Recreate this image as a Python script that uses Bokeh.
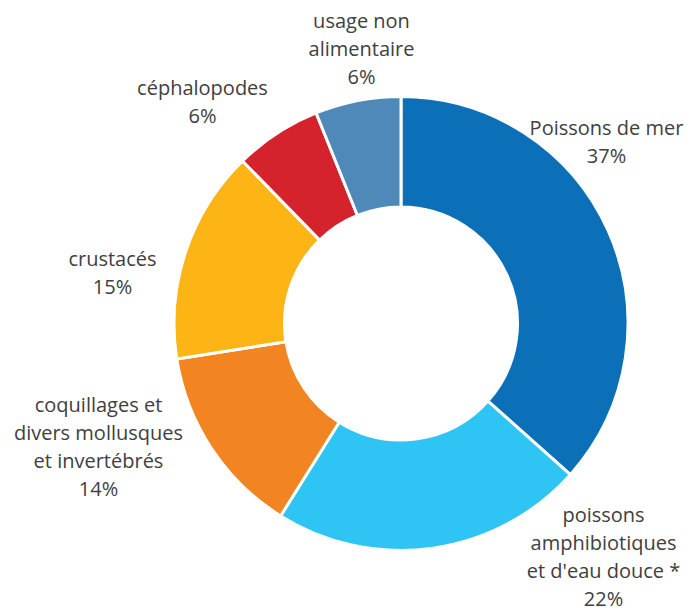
import math
from bokeh.plotting import figure
from bokeh.models import Range1d, ColumnDataSource
from bokeh.core.properties import value
from bokeh.embed import file_html
from bokeh.resources import INLINE

# data
categories = ["Poissons de mer", "poissons\namphibiotiques\net d'eau douce *",
              "coquillages et\ndivers mollusques\net invertébrés", "crustacés",
              "céphalopodes", "usage non\nalimentaire"]
shares = [36.6, 22.3, 13.6, 15.2, 6.2, 6.1]
pct_labels = ["37%", "22%", "14%", "15%", "6%", "6%"]
colors = ["#0B70B8", "#2EC4F3", "#F28422", "#FDB515", "#D4232C", "#4F89BA"]

# layout (screen pixels in the page)
CX, CY = 400.5, 323.0
R_OUT, R_IN = 227.0, 116.5
label_pos = [(606, 141), (603, 556), (98, 446), (112, 272), (202, 101), (361, 48)]
LINE_H = 28.2

W, H = 690, 612
p = figure(width=W, height=H, output_backend="svg", toolbar_location=None,
           x_range=Range1d(0, W), y_range=Range1d(0, H), min_border=0)
p.axis.visible = False
p.grid.visible = False
p.outline_line_color = None
p.background_fill_color = "white"
p.border_fill_color = "white"

def sy(y):
    return H - y

total = sum(shares)
starts, ends = [], []
cum = 0.0
for s in shares:
    starts.append(math.pi / 2 - 2 * math.pi * cum / total)
    cum += s
    ends.append(math.pi / 2 - 2 * math.pi * cum / total)

src = ColumnDataSource(dict(x=[CX] * len(shares), y=[sy(CY)] * len(shares),
                            start=starts, end=ends, color=colors))
p.annular_wedge(x="x", y="y", inner_radius=R_IN, outer_radius=R_OUT,
                start_angle="start", end_angle="end", direction="clock",
                fill_color="color", line_color="white", line_width=3, source=src)

xs, ys, ts = [], [], []
for c, pl, (lx, ly) in zip(categories, pct_labels, label_pos):
    lines = c.split("\n") + [pl]
    n = len(lines)
    for i, ln in enumerate(lines):
        xs.append(lx)
        ys.append(sy(ly + (i - (n - 1) / 2) * LINE_H))
        ts.append(ln)
lsrc = ColumnDataSource(dict(x=xs, y=ys, t=ts))
p.text(x="x", y="y", text="t", source=lsrc, text_align="center",
       text_baseline="middle", text_font=value("Open Sans"), text_font_size="20px",
       text_color="#404040")

open("out.html", "w").write(file_html(p, INLINE))
